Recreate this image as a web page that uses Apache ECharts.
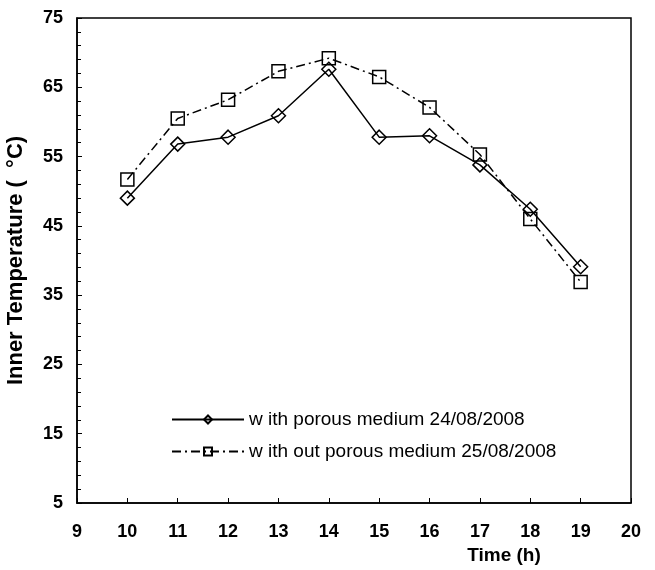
<!DOCTYPE html>
<html>
<head>
<meta charset="utf-8">
<script src="https://cdn.jsdelivr.net/npm/echarts@6/dist/echarts.min.js"></script>
<style>html,body{margin:0;padding:0;background:#fff}#c{width:655px;height:570px}</style>
</head>
<body>
<div id="c"></div>
<script>
const hours = [10, 11, 12, 13, 14, 15, 16, 17, 18, 19];
const withPorous = [49.0, 56.8, 57.8, 60.9, 67.6, 57.8, 58.0, 53.8, 47.4, 39.1];
const withoutPorous = [51.7, 60.5, 63.2, 67.3, 69.2, 66.5, 62.1, 55.3, 46.0, 36.9];
const seriesNames = ['w ith porous medium 24/08/2008', 'w ith out porous medium 25/08/2008'];
const xTitle = 'Time (h)';
const yTitle = 'Inner Temperature (  °C)';

const FONT = 'Liberation Sans, Arial, sans-serif';
const pairs = (ys) => hours.map((h, i) => [h, ys[i]]);

const chart = echarts.init(document.getElementById('c'), null, {renderer: 'canvas'});
chart.setOption({
  animation: false,
  backgroundColor: '#fff',
  grid: {left: 77, right: 24, top: 18, bottom: 67, outerBoundsMode: 'none', containLabel: false,
         show: true, borderColor: '#000', borderWidth: 1.5, backgroundColor: 'transparent'},
  xAxis: {
    type: 'value', min: 9, max: 20, interval: 1,
    name: xTitle, nameLocation: 'middle', nameGap: 43,
    nameTextStyle: {fontFamily: FONT, fontWeight: 'bold', fontSize: 19, color: '#000', padding: [0, 0, 0, 300]},
    axisLine: {lineStyle: {color: '#000', width: 1.5}},
    axisTick: {inside: true, length: 5, lineStyle: {color: '#000', width: 1}},
    axisLabel: {fontFamily: FONT, fontWeight: 'bold', fontSize: 18, color: '#000', margin: 20},
    splitLine: {show: false}
  },
  yAxis: {
    type: 'value', min: 5, max: 75, interval: 10,
    name: yTitle, nameLocation: 'middle', nameGap: 50, nameRotate: 90,
    nameTextStyle: {fontFamily: FONT, fontWeight: 'bold', fontSize: 22, color: '#000'},
    axisLine: {lineStyle: {color: '#000', width: 1.5}},
    axisTick: {inside: true, length: 5, lineStyle: {color: '#000', width: 1}},
    minorTick: {show: true, splitNumber: 5, length: 4, lineStyle: {color: '#000', width: 1}},
    axisLabel: {fontFamily: FONT, fontWeight: 'bold', fontSize: 18, color: '#000', margin: 14},
    splitLine: {show: false}
  },
  legend: {
    orient: 'vertical', left: 166, top: 405, itemWidth: 72, itemHeight: 10, itemGap: 13,
    textStyle: {fontFamily: FONT, fontSize: 19, color: '#000'},
    data: seriesNames
  },
  series: [
    {
      name: seriesNames[0], type: 'line', data: pairs(withPorous),
      symbol: 'diamond', symbolSize: [14, 14],
      lineStyle: {color: '#000', width: 1.5, type: 'solid'},
      itemStyle: {color: 'rgba(255,255,255,0)', borderColor: '#000', borderWidth: 1.5}
    },
    {
      name: seriesNames[1], type: 'line', data: pairs(withoutPorous),
      symbol: 'rect', symbolSize: 13,
      lineStyle: {color: '#000', width: 1.5, type: [9, 4, 2, 4]},
      itemStyle: {color: 'rgba(255,255,255,0)', borderColor: '#000', borderWidth: 1.5}
    }
  ]
});
</script>
</body>
</html>
